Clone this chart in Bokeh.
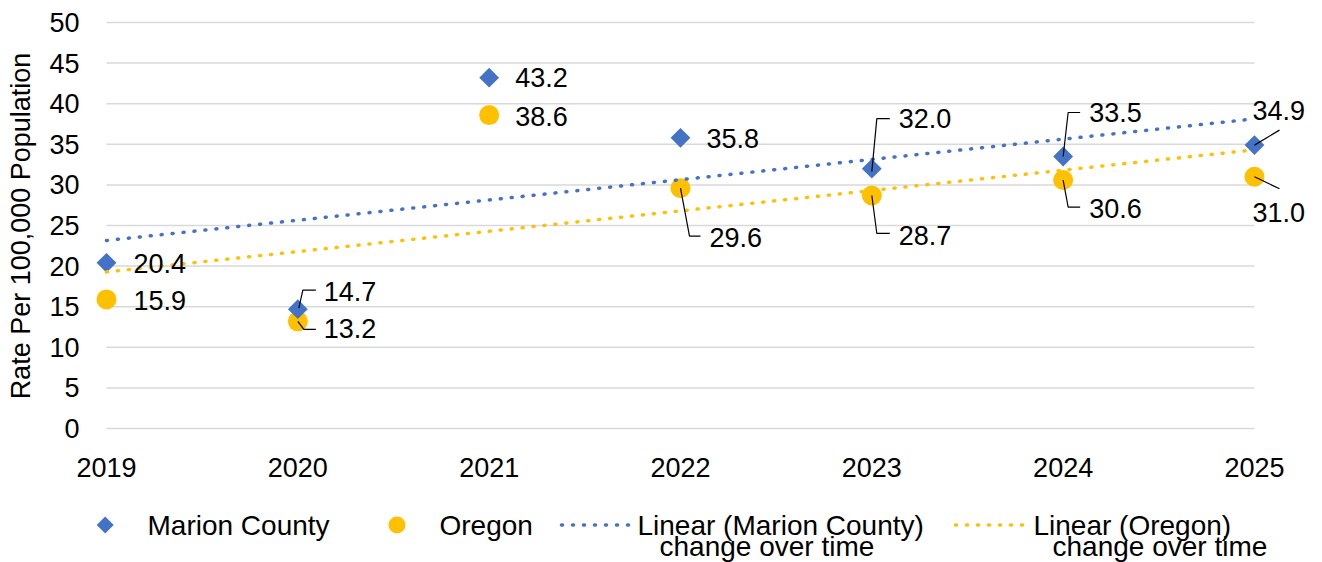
import numpy as np
from bokeh.plotting import figure
from bokeh.models import Range1d, FixedTicker
from bokeh.layouts import column
from bokeh.embed import file_html
from bokeh.resources import INLINE
from bokeh.core.properties import value

# ---------------- data ----------------
years = [2019, 2020, 2021, 2022, 2023, 2024, 2025]
marion = [20.4, 14.7, 43.2, 35.8, 32.0, 33.5, 34.9]
oregon = [15.9, 13.2, 38.6, 29.6, 28.7, 30.6, 31.0]
y_ticks = [0, 5, 10, 15, 20, 25, 30, 35, 40, 45, 50]
y_title = "Rate Per 100,000 Population"
series_names = ["Marion County", "Oregon"]
trend_names = [["Linear (Marion County)", "change over time"],
               ["Linear (Oregon)", "change over time"]]

# ---------------- style ----------------
BLUE = "#4472C4"
GOLD = "#FFC000"
GRID = "#D9D9D9"
FONT = "Liberation Sans"
FS = "27px"

PXX = 191.33   # px per year
PXY = 8.12     # px per unit
FW, FH = 1224, 411
x0 = years[0] - 19 / PXX
x1 = x0 + FW / PXX
y1 = y_ticks[-1] + 2 / PXY
y0 = y1 - FH / PXY

TOTAL_W = 1322
MAIN_H = 498
LEG_H = 64
BL, BT = 87, 20
BR = TOTAL_W - BL - FW

# label offsets in screen px (dx right, dy down) relative to the point
m_lab_off = [(27, 1), (26, -18), (26, 0), (26, 1), (27, -50), (26, -44), (-2, -35)]
o_lab_off = [(27, 1), (26, 7), (26, 1), (29, 49), (27, 40), (26, 28), (-2, 36)]
m_lead = [None, [(1, -1), (5, -19), (18, -19)], None, None,
          [(0, 3), (5, -50), (18, -50)], [(0, 0), (5, -44), (17, -44)],
          [(0, 0), (25, -15)]]
o_lead = [None, [(0, 0), (6, 8), (18, 8)], None, [(0, 0), (9, 48), (20, 48)],
          [(0, 0), (5, 38), (18, 38)], [(0, 0), (5, 27), (17, 27)],
          [(0, 0), (25, 12)]]

p = figure(frame_width=FW, frame_height=FH,
           x_range=Range1d(x0, x1), y_range=Range1d(y0, y1),
           output_backend="svg", toolbar_location=None,
           min_border_left=BL, min_border_right=BR,
           min_border_top=BT, min_border_bottom=MAIN_H - BT - FH)
p.outline_line_color = None
p.grid.visible = False
p.background_fill_color = "white"

for ax in (p.xaxis[0], p.yaxis[0]):
    ax.axis_line_color = None
    ax.major_tick_line_color = None
    ax.minor_tick_line_color = None
    ax.major_tick_out = 0
    ax.major_tick_in = 0
    ax.minor_tick_out = 0
    ax.major_label_text_font = FONT
    ax.major_label_text_font_size = FS
    ax.major_label_text_color = "#000000"

p.xaxis.ticker = FixedTicker(ticks=years)
p.xaxis.major_label_standoff = 26
p.yaxis.ticker = FixedTicker(ticks=y_ticks)
p.yaxis.major_label_standoff = 8
p.yaxis.axis_label = y_title
p.yaxis.axis_label_text_font = FONT
p.yaxis.axis_label_text_font_size = FS
p.yaxis.axis_label_text_font_style = "normal"
p.yaxis.axis_label_text_color = "#000000"
p.yaxis.axis_label_standoff = 10

# gridlines
p.segment(x0=[years[0]] * len(y_ticks), y0=y_ticks,
          x1=[years[-1]] * len(y_ticks), y1=y_ticks,
          line_color=GRID, line_width=1.5)

# markers
p.scatter(years, oregon, marker="circle", size=20, fill_color=GOLD, line_color=None)
p.scatter(years, marion, marker="square", angle=np.pi / 4, size=14,
          fill_color=BLUE, line_color=None)

# linear trend lines
idx = np.arange(len(years))
for vals, col in ((marion, BLUE), (oregon, GOLD)):
    k, b = np.polyfit(idx, vals, 1)
    p.line([years[0], years[-1]], [b, b + k * idx[-1]], line_color=col,
           line_width=3.5, line_dash="1 10", line_cap="round")

# leader lines
xs, ys = [], []
for vals, leads in ((marion, m_lead), (oregon, o_lead)):
    for yr, v, ld in zip(years, vals, leads):
        if ld is None:
            continue
        xs.append([yr + dx / PXX for dx, dy in ld])
        ys.append([v - dy / PXY for dx, dy in ld])
p.multi_line(xs, ys, line_color="#000000", line_width=1.2)

# data labels
for vals, offs in ((marion, m_lab_off), (oregon, o_lab_off)):
    p.text([yr + dx / PXX for yr, (dx, dy) in zip(years, offs)],
           [v - dy / PXY for v, (dx, dy) in zip(vals, offs)],
           text=[f"{v:.1f}" for v in vals],
           text_font=value(FONT), text_font_size=FS, text_color="#000000",
           text_align="left", text_baseline="middle")

# ---------------- legend strip (frame aligned with main frame; x in page px) ----------------
lg = figure(frame_width=FW, frame_height=LEG_H,
            x_range=Range1d(BL, BL + FW), y_range=Range1d(LEG_H, 0),
            output_backend="svg", toolbar_location=None,
            min_border_left=BL, min_border_right=BR,
            min_border_top=0, min_border_bottom=0,
            x_axis_location=None, y_axis_location=None)
lg.outline_line_color = None
lg.grid.visible = False

MY = 26.5
lg.scatter([104.7], [MY], marker="square", angle=np.pi / 4, size=12,
           fill_color=BLUE, line_color=None)
lg.scatter([396.5], [MY], marker="circle", size=17, fill_color=GOLD, line_color=None)
lg.line([561, 630], [MY, MY], line_color=BLUE, line_width=3.5,
        line_dash="1 10", line_cap="round")
lg.line([955, 1025], [MY, MY], line_color=GOLD, line_width=3.5,
        line_dash="1 10", line_cap="round")

lg.text([147, 439, 637, 659, 1033, 1052],
        [26.5, 26.5, 26.5, 47.5, 26.5, 47.5],
        text=[series_names[0], series_names[1],
              trend_names[0][0], trend_names[0][1],
              trend_names[1][0], trend_names[1][1]],
        text_font=value(FONT), text_font_size="28px", text_color="#000000",
        text_align="left", text_baseline="middle")

layout = column(p, lg, spacing=0)
open("out.html", "w").write(file_html(layout, INLINE))
